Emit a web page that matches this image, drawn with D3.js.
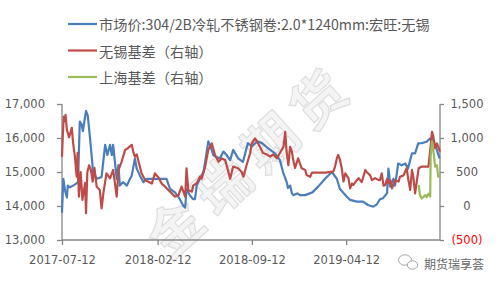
<!DOCTYPE html>
<html>
<head>
<meta charset="utf-8">
<script src="https://cdn.jsdelivr.net/npm/d3@7"></script>
<style>
  body { margin: 0; background: #fff; }
  svg text { font-family: 'DejaVu Sans', sans-serif; }
  .legend text, .brand { font-family: 'Noto Sans CJK SC', sans-serif; }
</style>
</head>
<body>
<div id="container"></div>
<script>
// 市场价:304/2B冷轧不锈钢卷 (left axis)
const priceDates = ['2017-07-12','2017-07-15','2017-07-19','2017-07-23','2017-07-25','2017-07-30','2017-08-06','2017-08-12','2017-08-17','2017-08-21','2017-08-25','2017-08-28','2017-09-04','2017-09-08','2017-09-13','2017-09-20','2017-09-28','2017-10-09','2017-10-17','2017-10-22','2017-10-28','2017-11-01','2017-11-04','2017-11-08','2017-11-12','2017-11-16','2017-11-19','2017-11-26','2017-12-05','2017-12-12','2017-12-16','2017-12-23','2017-12-27','2018-01-03','2018-01-11','2018-01-18','2018-02-10','2018-03-04','2018-03-12','2018-03-23','2018-04-03','2018-04-11','2018-04-15','2018-04-18','2018-04-26','2018-05-03','2018-05-07','2018-05-11','2018-05-18','2018-05-26','2018-05-30','2018-06-06','2018-06-10','2018-06-17','2018-06-23','2018-07-02','2018-07-10','2018-07-17','2018-07-25','2018-08-01','2018-08-12','2018-08-23','2018-09-03','2018-09-12','2018-09-24','2018-10-05','2018-10-18','2018-11-03','2018-11-14','2018-11-21','2018-11-30','2018-12-02','2018-12-07','2018-12-11','2018-12-14','2018-12-23','2018-12-29','2019-01-10','2019-01-26','2019-02-08','2019-02-24','2019-03-11','2019-03-22','2019-03-29','2019-04-13','2019-04-21','2019-05-06','2019-05-20','2019-05-31','2019-06-12','2019-06-20','2019-06-27','2019-07-04','2019-07-13','2019-07-16','2019-07-18','2019-07-20','2019-07-27','2019-07-31','2019-08-07','2019-08-15','2019-08-23','2019-08-29','2019-09-07','2019-09-14','2019-09-21','2019-09-29','2019-10-10','2019-10-18','2019-10-25','2019-11-02','2019-11-08'];
const priceValues = [13800,14800,14450,14250,14600,14550,14600,14650,14700,16480,16400,16200,16800,16650,16000,15000,14800,14850,15800,15500,15800,15500,15800,15300,14800,15200,14600,14700,14600,14800,14900,15400,15100,14900,14700,14800,14800,14800,14500,14400,14200,14000,13950,14500,14300,14200,14200,14600,14800,15000,15300,15900,15800,15500,15450,15400,15600,15500,15350,15650,15400,15300,15850,15750,15900,15850,15700,15550,15350,15000,14670,14530,14600,14370,14320,14370,14320,14320,14400,14570,14810,15000,14800,14500,14280,14180,14130,14130,14030,13980,14050,14200,14230,14380,15100,14900,14570,14800,14600,15250,15200,15250,15100,15550,15550,15840,15850,15890,15990,15900,15650,15400];

// 无锡基差 (right axis)
const wuxiDates = ['2017-07-12','2017-07-14','2017-07-16','2017-07-19','2017-07-20','2017-07-23','2017-07-28','2017-08-03','2017-08-06','2017-08-10','2017-08-14','2017-08-16','2017-08-19','2017-08-23','2017-08-27','2017-09-02','2017-09-04','2017-09-07','2017-09-11','2017-09-15','2017-09-19','2017-09-23','2017-09-28','2017-10-05','2017-10-09','2017-10-13','2017-10-20','2017-10-28','2017-11-04','2017-11-12','2017-11-16','2017-11-23','2017-12-01','2017-12-07','2017-12-16','2017-12-19','2017-12-23','2017-12-27','2018-01-03','2018-01-07','2018-01-15','2018-01-21','2018-01-30','2018-02-06','2018-02-14','2018-02-21','2018-03-01','2018-03-08','2018-03-16','2018-03-23','2018-03-31','2018-04-07','2018-04-15','2018-04-18','2018-04-22','2018-04-30','2018-05-03','2018-05-11','2018-05-18','2018-05-22','2018-05-30','2018-06-06','2018-06-14','2018-06-21','2018-06-29','2018-07-06','2018-07-14','2018-07-21','2018-07-25','2018-08-01','2018-08-12','2018-08-20','2018-08-24','2018-08-31','2018-09-08','2018-09-12','2018-09-19','2018-09-26','2018-09-30','2018-10-07','2018-10-15','2018-10-23','2018-10-30','2018-11-07','2018-11-14','2018-11-22','2018-11-26','2018-11-29','2018-12-03','2018-12-07','2018-12-11','2018-12-14','2018-12-18','2018-12-22','2018-12-25','2019-01-02','2019-01-10','2019-01-13','2019-01-21','2019-01-25','2019-02-24','2019-03-14','2019-03-18','2019-03-22','2019-03-25','2019-03-29','2019-04-02','2019-04-06','2019-04-10','2019-04-17','2019-04-21','2019-04-25','2019-04-28','2019-05-06','2019-05-10','2019-05-17','2019-05-25','2019-05-28','2019-06-05','2019-06-09','2019-06-16','2019-06-24','2019-06-27','2019-07-01','2019-07-05','2019-07-09','2019-07-13','2019-07-16','2019-07-20','2019-07-24','2019-07-31','2019-08-08','2019-08-11','2019-08-19','2019-08-26','2019-08-30','2019-09-03','2019-09-07','2019-09-10','2019-09-14','2019-09-22','2019-09-29','2019-10-14','2019-10-18','2019-10-22','2019-10-25','2019-10-29','2019-11-02','2019-11-09'];
const wuxiValues = [725,1070,1314,1250,1340,1120,1010,1150,925,725,430,780,137,500,90,340,-107,500,600,530,360,560,285,235,-35,185,480,407,530,137,530,650,825,850,900,800,725,760,580,480,380,360,330,480,420,330,285,235,185,137,160,285,137,555,235,210,300,335,430,400,580,825,920,750,650,700,675,505,400,580,555,500,430,600,775,920,995,920,870,780,760,725,760,700,780,870,1090,800,600,870,800,675,560,640,700,555,530,455,430,490,490,505,580,700,750,680,560,360,480,410,260,330,310,380,410,350,530,500,450,380,410,380,380,480,300,310,400,335,380,260,380,360,430,450,555,380,235,530,430,185,555,580,580,825,1090,1020,850,920,800];

// 上海基差 (right axis)
const shanghaiDates = ['2019-09-22','2019-09-25','2019-09-29','2019-10-07','2019-10-10','2019-10-14','2019-10-18','2019-10-19','2019-10-22','2019-10-25','2019-10-29','2019-11-02','2019-11-05','2019-11-09'];
const shanghaiValues = [310,160,110,160,130,180,140,725,950,825,580,600,430,450];

const leftTicks = [13000, 14000, 15000, 16000, 17000];
const rightTicks = [-500, 0, 500, 1000, 1500];
const xTickLabels = ['2017-07-12', '2018-02-12', '2018-09-12', '2019-04-12'];
const legendLabels = ['市场价:304/2B冷轧不锈钢卷:2.0*1240mm:宏旺:无锡', '无锡基差（右轴）', '上海基差（右轴）'];
const colors = ['#4A7EBB', '#BE4B48', '#9BBB59'];

const width = 500, height = 285;
const plot = { left: 62, right: 440, top: 104, bottom: 240 };
const axisColor = '#868686';
const textColor = '#595959';

const parse = d3.timeParse('%Y-%m-%d');

const svg = d3.select('#container').append('svg')
  .attr('width', width)
  .attr('height', height);

const x = d3.scaleTime()
  .domain([parse('2017-07-12'), parse('2019-11-09')])
  .range([plot.left, plot.right]);
const yLeft = d3.scaleLinear().domain([13000, 17000]).range([plot.bottom, plot.top]);
const yRight = d3.scaleLinear().domain([-500, 1500]).range([plot.bottom, plot.top]);

// watermark
svg.append('text')
  .attr('transform', 'translate(248,158) rotate(-42)')
  .attr('text-anchor', 'middle')
  .attr('dominant-baseline', 'central')
  .style('font-family', "'Noto Sans CJK SC', sans-serif")
  .style('font-size', '54px')
  .style('font-weight', 'bold')
  .style('letter-spacing', '10px')
  .attr('fill', '#f4f4f4')
  .attr('stroke', '#dedede')
  .attr('stroke-width', 1.2)
  .text('金瑞期货');

// axes
const leftAxis = svg.append('g')
  .attr('transform', 'translate(' + plot.left + ',0)')
  .call(d3.axisLeft(yLeft).tickValues(leftTicks).tickFormat(d3.format(',')).tickSize(5).tickPadding(12));

const rightAxis = svg.append('g')
  .attr('transform', 'translate(' + plot.right + ',0)')
  .call(d3.axisRight(yRight).tickValues(rightTicks)
    .tickFormat((d) => (d < 0 ? '(' + d3.format(',')(-d) + ')' : d3.format(',')(d)))
    .tickSize(4).tickPadding(23));
rightAxis.selectAll('text')
  .attr('text-anchor', 'middle')
  .attr('fill', (d) => (d < 0 ? '#FF0000' : textColor));

const bottomAxis = svg.append('g')
  .attr('transform', 'translate(0,' + plot.bottom + ')')
  .call(d3.axisBottom(x).tickValues(xTickLabels.map(parse)).tickFormat(d3.timeFormat('%Y-%m-%d')).tickSize(5));
bottomAxis.selectAll('text').attr('y', 24).attr('dy', 0);

[leftAxis, rightAxis, bottomAxis].forEach((g) => {
  g.select('.domain').attr('stroke', axisColor).attr('stroke-width', 1.3);
  g.selectAll('.tick line').attr('stroke', axisColor).attr('stroke-width', 1.3);
  g.selectAll('text').style('font-size', '11.5px').style('font-family', "'DejaVu Sans', sans-serif");
});
leftAxis.selectAll('text').attr('fill', textColor);
bottomAxis.selectAll('text').attr('fill', textColor);
bottomAxis.select('.domain').attr('d', 'M' + plot.left + ',0H' + plot.right);
leftAxis.select('.domain').attr('d', 'M0,' + plot.bottom + 'V' + plot.top);
rightAxis.select('.domain').attr('d', 'M0,' + plot.bottom + 'V' + plot.top);

// lines
function drawLine(dates, values, yScale, color) {
  const pts = dates.map((d, i) => [parse(d), values[i]]);
  svg.append('path')
    .datum(pts)
    .attr('fill', 'none')
    .attr('stroke', color)
    .attr('stroke-width', 2.2)
    .attr('stroke-linejoin', 'round')
    .attr('d', d3.line().x((d) => x(d[0])).y((d) => yScale(d[1])));
}
drawLine(priceDates, priceValues, yLeft, colors[0]);
drawLine(wuxiDates, wuxiValues, yRight, colors[1]);
drawLine(shanghaiDates, shanghaiValues, yRight, colors[2]);

// legend
const legend = svg.append('g').attr('class', 'legend');
legendLabels.forEach((label, i) => {
  const yPos = 24 + i * 26.5;
  legend.append('line')
    .attr('x1', 68).attr('x2', 97)
    .attr('y1', yPos).attr('y2', yPos)
    .attr('stroke', colors[i])
    .attr('stroke-width', 2.2);
  legend.append('text')
    .attr('x', 99)
    .attr('y', yPos)
    .attr('dominant-baseline', 'central')
    .attr('fill', textColor)
    .style('font-size', '14.2px')
    .text(label);
});

// wechat badge
const badge = svg.append('g').attr('fill', '#fff').attr('stroke', '#a6a6a6').attr('stroke-width', 1);
badge.append('ellipse').attr('cx', 405).attr('cy', 260).attr('rx', 6.5).attr('ry', 5.2);
badge.append('ellipse').attr('cx', 412.5).attr('cy', 265).attr('rx', 5.2).attr('ry', 4.2);
svg.append('text')
  .attr('class', 'brand')
  .attr('x', 424)
  .attr('y', 263)
  .attr('dominant-baseline', 'central')
  .attr('fill', '#666')
  .style('font-size', '12px')
  .text('期货瑞享荟');
</script>
</body>
</html>
